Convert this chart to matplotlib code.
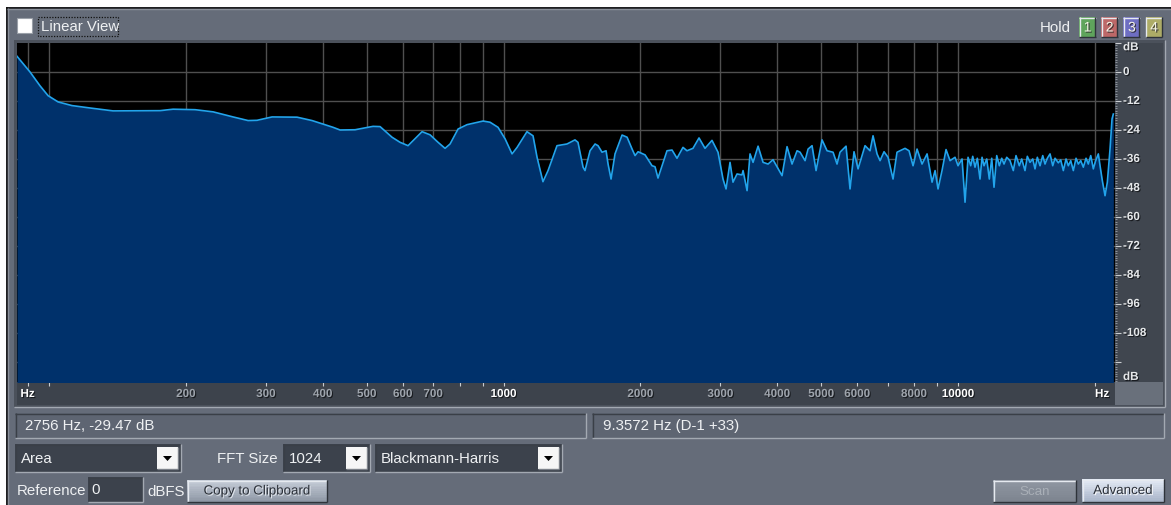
import matplotlib
matplotlib.use("Agg")
import matplotlib.pyplot as plt
import matplotlib.patheffects as pe
from matplotlib.patches import Rectangle, Polygon
from matplotlib.ticker import FixedLocator, NullLocator, MultipleLocator

# ---------------- spectrum data ----------------
freq_hz = [
    85.0, 90.8, 95.5, 99.5, 104.7, 112.3, 123.1, 138.3, 175.5, 187.4, 209.5, 229.6,
    254.0, 274.1, 286.8, 309.5, 351.3, 379.0, 421.6, 436.8, 471.3, 516.2, 534.9,
    568.4, 591.9,
    616.4, 661.8, 689.1, 717.6, 743.5, 762.6, 794.2, 831.2, 901.5, 934.0, 972.5,
    1008, 1044, 1071, 1126, 1161, 1185, 1221, 1253, 1311, 1379, 1436, 1458, 1496,
    1511, 1550, 1590, 1614, 1647, 1681, 1698, 1724, 1759, 1823, 1870, 1918, 1947,
    1977, 2048, 2122, 2154, 2187, 2289, 2348, 2408, 2482, 2533, 2611, 2692, 2775,
    2875, 2964, 3040, 3087, 3150, 3198, 3264, 3347, 3365, 3434, 3486, 3540, 3631,
    3724, 3820, 3917, 4100, 4205, 4313, 4424,
    4492, 4607, 4678, 4773, 4871, 5021, 5150, 5309, 5417, 5500, 5670, 5786, 5904,
    6026, 6243, 6403, 6501, 6634, 6736, 6874, 7015, 7194, 7341, 7645, 7802, 7962,
    8125, 8333, 8548, 8767, 8902, 9036, 9221, 9410, 9603, 9849, 10000, 10205,
    10361, 10520,
    10664, 10773, 10899, 11027, 11178, 11293, 11408, 11565, 11718, 11862, 12000,
    12166, 12327, 12478, 12623, 12797, 13013, 13232, 13414, 13641, 13807, 14040,
    14205, 14401, 14600, 14771, 14944, 15150, 15359, 15539, 15721, 15938, 16158,
    16347, 16623, 16826, 17049, 17284, 17487, 17701, 17935, 18182, 18396, 18621,
    18867, 19127, 19351, 19588, 19848, 20050, 20357, 20533, 20774, 21060, 21307,
    21600, 21820, 21965,
]
level_db = [
    6.5, 0.0, -5.7, -9.8, -12.4, -13.9, -14.9, -16.1, -16.0, -15.4, -15.6, -16.5,
    -18.6, -20.1, -20.0, -18.6, -18.7, -20.1, -22.9, -24.0, -23.9, -22.5, -22.6,
    -27.0, -29.1,
    -30.5, -24.7, -26.0, -29.1, -31.6, -29.8, -23.6, -21.8, -20.3, -20.8, -22.9,
    -27.7, -33.9, -31.2, -24.7, -26.4, -35.3, -45.4, -40.8, -30.5, -29.8, -28.1,
    -29.1, -39.4, -40.8, -32.6, -29.8, -30.5, -33.2, -32.6, -38.1, -44.3, -33.9,
    -26.1, -27.0, -31.9, -34.6, -33.0, -34.3, -38.8, -39.2, -43.9, -32.6, -32.3,
    -35.7, -31.2, -32.6, -31.6, -27.3, -31.6, -28.3, -33.2, -44.3, -48.4, -37.4,
    -45.6, -42.2, -42.6, -40.8, -49.1, -33.9, -37.4, -30.7, -37.4, -38.1, -36.3,
    -42.9, -30.9, -38.1, -32.6,
    -33.2, -36.7, -31.9, -30.5, -40.8, -28.1, -32.6, -33.2, -38.1, -33.2, -30.7,
    -48.4, -33.0, -40.1, -30.5, -32.6, -26.4, -33.9, -36.7, -33.0, -35.3, -44.3,
    -33.2, -31.6, -32.6, -38.8, -31.9, -38.1, -33.9, -45.6, -40.8, -48.4, -40.8,
    -32.1, -36.7, -35.3, -38.8, -36.0, -53.9, -35.3,
    -38.8, -34.9, -39.4, -35.7, -44.3, -35.3, -38.8, -36.0, -44.3, -35.7, -47.7,
    -34.6, -38.8, -35.7, -38.1, -35.3, -36.7, -40.8, -34.6, -38.8, -36.0, -40.8,
    -34.9, -37.4, -36.0, -40.1, -35.3, -38.8, -34.6, -38.1, -35.7, -33.9, -38.8,
    -35.7, -37.6, -36.4, -40.8, -36.0, -38.8, -36.7, -40.8, -35.7, -38.1, -36.7,
    -39.4, -35.7, -38.1, -34.6, -40.1, -37.1, -33.9, -38.8, -45.0, -51.2, -45.6,
    -31.9, -19.4, -17.4,
]

grid_freqs = [90, 100, 200, 300, 400, 500, 600, 700, 800, 900, 1000, 2000, 3000,
              4000, 5000, 6000, 7000, 8000, 9000, 10000, 20000]
freq_labels = [200, 300, 400, 500, 600, 700, 1000, 2000, 3000, 4000, 5000, 6000,
               8000, 10000]
bright_freq_labels = [1000, 10000]
db_labels = [0, -12, -24, -36, -48, -60, -72, -84, -96, -108]
db_grid = [0, -12, -24, -36, -48, -60, -72, -84, -96, -108, -120]

# ---------------- figure & helpers ----------------
W, H = 1171, 506
fig = plt.figure(figsize=(W / 100, H / 100), dpi=100)
fig.patch.set_facecolor("#656c79")
bg = fig.add_axes([0, 0, 1, 1])
bg.set_xlim(0, W)
bg.set_ylim(H, 0)
bg.axis("off")

UI_FONT = "Liberation Sans"
TXT = "#eef0f2"


def rect(x0, y0, x1, y1, fc, ec="none", lw=0, z=1, **kw):
    bg.add_patch(Rectangle((x0, y0), x1 - x0, y1 - y0, facecolor=fc,
                           edgecolor=ec, linewidth=lw, zorder=z, **kw))


def hline(x0, x1, y, c, lw=1, z=2):
    bg.plot([x0, x1], [y, y], color=c, lw=lw, zorder=z, solid_capstyle="butt")


def vline(x, y0, y1, c, lw=1, z=2):
    bg.plot([x, x], [y0, y1], color=c, lw=lw, zorder=z, solid_capstyle="butt")


def sunken(x0, y0, x1, y1, fc, z=2):
    rect(x0, y0, x1, y1, fc, z=z)
    hline(x0, x1, y0 + 0.5, "#3a3f47", z=z + 0.1)
    vline(x0 + 0.5, y0, y1, "#3a3f47", z=z + 0.1)
    hline(x0, x1, y1 - 0.5, "#a3a9b2", z=z + 0.1)
    vline(x1 - 0.5, y0, y1, "#a3a9b2", z=z + 0.1)


def raised(x0, y0, x1, y1, top, bottom, z=2):
    n = 12
    h = (y1 - y0) / n
    c0 = matplotlib.colors.to_rgb(top)
    c1 = matplotlib.colors.to_rgb(bottom)
    for i in range(n):
        t = i / (n - 1)
        c = tuple(a + (b - a) * t for a, b in zip(c0, c1))
        rect(x0, y0 + i * h, x1, y0 + (i + 1) * h + 0.3, c, z=z)
    hline(x0, x1, y0 + 0.5, "#e6eaf0", z=z + 0.1)
    vline(x0 + 0.5, y0, y1, "#e6eaf0", z=z + 0.1)
    hline(x0, x1, y1 - 0.5, "#2e333a", z=z + 0.1)
    vline(x1 - 0.5, y0, y1, "#2e333a", z=z + 0.1)


def text(x, y, s, color=TXT, size=10.8, ha="left", weight="normal", z=5,
         shadow=None):
    t = bg.text(x, y, s, color=color, fontsize=size, ha=ha, va="center",
                family=UI_FONT, weight=weight, zorder=z)
    if shadow:
        t.set_path_effects([pe.withSimplePatchShadow(offset=(0.8, -0.8),
                                                     shadow_rgbFace=shadow,
                                                     alpha=0.9)])
    return t


def dropdown(x0, x1, y0, y1, label):
    sunken(x0, y0, x1, y1, "#3c424c")
    bx0, bx1 = x1 - 24, x1 - 3
    rect(bx0, y0 + 3, bx1, y1 - 3, "#f6f6f6", z=3)
    hline(bx0, bx1, y1 - 3.5, "#7d828a", z=3.1)
    vline(bx1 - 0.5, y0 + 3, y1 - 3, "#7d828a", z=3.1)
    cx, cy = (bx0 + bx1) / 2, (y0 + y1) / 2 + 0.5
    bg.add_patch(Polygon([[cx - 4.5, cy - 2.5], [cx + 4.5, cy - 2.5], [cx, cy + 2.5]],
                         closed=True, facecolor="black", edgecolor="none", zorder=4))
    text(x0 + 6, (y0 + y1) / 2, label)


# ---------------- window chrome ----------------
rect(0, 0, W, 8, "white", z=0.5)
rect(0, 0, 6, H, "white", z=0.5)
hline(6, W, 8.5, "#111111", lw=1.2)
vline(6.5, 8, H, "#111111", lw=1.2)
hline(7, W, 10, "#8a909a")
vline(8, 9, H, "#8a909a")

# Linear View checkbox
rect(17, 19, 32, 34, "#ffffff", ec="#9aa0a8", lw=0.8, z=3)
text(41, 27, "Linear View")
rect(38, 17.5, 118, 37, "none", ec="#111111", lw=0.9, z=4, linestyle=(0, (1, 1.2)))

# Hold buttons
text(1071, 28, "Hold", ha="right")
hold_colors = ["#5fa45c", "#bd6868", "#6e6ec2", "#adac67"]
for i, c in enumerate(hold_colors):
    x0 = 1079 + i * 22.2
    raised(x0, 18, x0 + 16.5, 38, c, c)
    text(x0 + 8.5, 28.5, str(i + 1), color="#f4f4e8", size=10, ha="center",
         shadow="#2a2a2a")

# plot frame and axis bands
rect(14, 41, 1165, 408, "#4b515b", z=1)
hline(14, 1165, 407.5, "#a3a9b2", z=1.1)
vline(1164.5, 41, 408, "#a3a9b2", z=1.1)
rect(17, 383, 1115, 405.5, "#3d434c", z=1.2)
rect(1115, 44, 1163, 383, "#40464f", z=1.2)
rect(1115, 383, 1163, 405.5, "#69707b", z=1.2)

# readout boxes
sunken(15, 414, 586, 439, "#5e6572")
text(25, 426.5, "2756 Hz, -29.47 dB")
sunken(592, 414, 1164, 439, "#5e6572")
text(603, 426.5, "9.3572 Hz (D-1 +33)")

# option row
dropdown(15, 181, 445, 473, "Area")
text(278, 459, "FFT Size", ha="right")
dropdown(283, 370, 445, 473, "1024")
dropdown(375, 562, 445, 473, "Blackmann-Harris")

# bottom row
text(17, 491, "Reference")
sunken(88, 478, 143, 503, "#3c424c")
text(91, 490.5, "0")
text(147, 492, "dBFS")
raised(187, 481, 327, 503, "#c4cbd6", "#8f98a6")
text(257, 492.5, "Copy to Clipboard", color="#2b3038", size=9.6, ha="center",
     shadow="#e8ecf2")
raised(993, 481, 1076, 503, "#8f96a1", "#7d848f")
text(1034.5, 492.5, "Scan", color="#a9afb7", size=9.6, ha="center")
raised(1082, 480, 1164, 503, "#e3e9f4", "#a9b5c9")
text(1123, 492, "Advanced", color="#2b3038", size=9.6, ha="center",
     shadow="#ffffff")

# ---------------- spectrum axes ----------------
X0, Y0, X1, Y1 = 17, 44, 1115, 383
ax = fig.add_axes([X0 / W, 1 - Y1 / H, (X1 - X0) / W, (Y1 - Y0) / H])
ax.set_facecolor("black")
ax.set_xscale("log")
ax.set_xlim(85.0, 22150)
ax.set_ylim(-128.3, 12)
for s in ax.spines.values():
    s.set_visible(False)

for f in grid_freqs:
    ax.axvline(f, color="#4f4f4f", lw=1.0, zorder=1)
for d in db_grid:
    ax.axhline(d, color="#4f4f4f", lw=1.0, zorder=1)

ax.fill_between(freq_hz, level_db, -200, color="#00316b", lw=0, zorder=2)
ax.plot(freq_hz, level_db, color="#22a4ec", lw=1.2, zorder=3)

ax.xaxis.set_major_locator(FixedLocator(grid_freqs))
ax.xaxis.set_minor_locator(NullLocator())
ax.tick_params(axis="x", which="major", direction="out", length=3.0, width=0.8,
               color="#c9ccd0", labelbottom=False)
ax.yaxis.tick_right()
ax.yaxis.set_major_locator(FixedLocator(list(range(-120, 13, 12))))
ax.yaxis.set_minor_locator(MultipleLocator(1))
ax.tick_params(axis="y", which="major", direction="out", length=4.0, width=0.8,
               color="#c9ccd0", labelright=False, labelleft=False)
ax.tick_params(axis="y", which="minor", direction="out", length=1.5, width=0.6,
               color="#9aa0a8")

# frequency labels along the bottom band
xt = ax.get_xaxis_transform()
ylab = -(395 - Y1) / (Y1 - Y0)
for f in freq_labels:
    bright = f in bright_freq_labels
    t = ax.text(f, ylab, str(f), transform=xt, ha="center", va="center",
                fontsize=8.4, family=UI_FONT, weight="bold",
                color="#ffffff" if bright else "#9ea4ac", clip_on=False)
    t.set_path_effects([pe.withSimplePatchShadow(offset=(0.8, -0.8),
                                                 shadow_rgbFace="#15181c",
                                                 alpha=0.9)])
for fx, ha in ((86.5, "left"), (21500, "right")):
    t = ax.text(fx, ylab, "Hz", transform=xt, ha=ha, va="center", fontsize=8.4,
                family=UI_FONT, weight="bold", color="#ffffff", clip_on=False)
    t.set_path_effects([pe.withSimplePatchShadow(offset=(0.8, -0.8),
                                                 shadow_rgbFace="#15181c",
                                                 alpha=0.9)])

# level labels along the right band
yt = ax.get_yaxis_transform()
xlab = 1 + (1123 - X1) / (X1 - X0)
for d in db_labels:
    t = ax.text(xlab, d, str(d), transform=yt, ha="left", va="center",
                fontsize=8.4, family=UI_FONT, weight="bold", color="#e6e8ea",
                clip_on=False)
    t.set_path_effects([pe.withSimplePatchShadow(offset=(0.8, -0.8),
                                                 shadow_rgbFace="#15181c",
                                                 alpha=0.9)])
for d in (10.2, -126.2):
    t = ax.text(xlab, d, "dB", transform=yt, ha="left", va="center",
                fontsize=8.4, family=UI_FONT, weight="bold", color="#e6e8ea",
                clip_on=False)
    t.set_path_effects([pe.withSimplePatchShadow(offset=(0.8, -0.8),
                                                 shadow_rgbFace="#15181c",
                                                 alpha=0.9)])

fig.savefig("out.png", dpi=100, facecolor=fig.get_facecolor())
